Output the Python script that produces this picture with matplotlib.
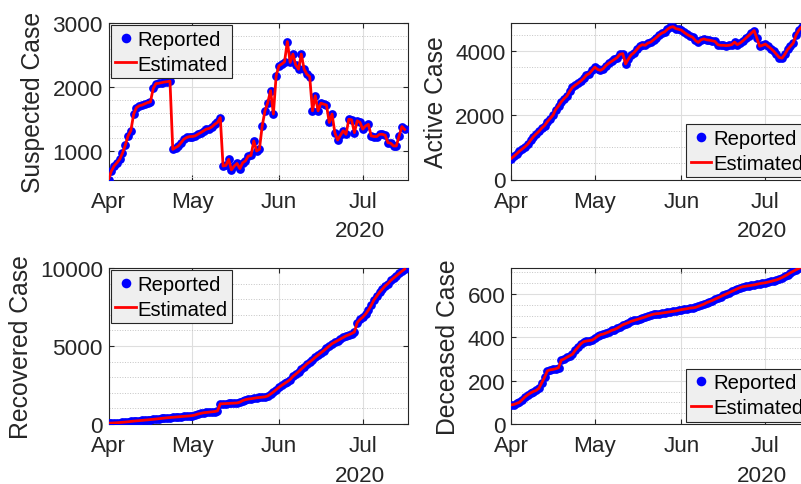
import numpy as np
import pandas as pd
import matplotlib
matplotlib.use("Agg")
import matplotlib.pyplot as plt
from matplotlib.ticker import MultipleLocator

DATES = pd.date_range("2020-04-01", "2020-07-16", freq="D")

SUSPECTED = [
    560, 690, 770, 820, 875, 970, 1095, 1240, 1320, 1580,
    1680, 1710, 1720, 1740, 1760, 1770, 1980, 2055, 2060, 2070,
    2080, 2085, 2095, 1030, 1057, 1083, 1135, 1190, 1215, 1230,
    1230, 1240, 1265, 1290, 1318, 1345, 1355, 1380, 1420, 1450,
    1525, 770, 780, 875, 710, 770, 810, 730, 820, 850,
    925, 935, 1160, 1005, 1030, 1395, 1630, 1760, 1945, 1580,
    2180, 2333, 2360, 2395, 2710, 2385, 2515, 2345, 2280, 2515,
    2280, 2200, 2165, 1630, 1865, 1630, 1750, 1735, 1720, 1450,
    1580, 1290, 1175, 1250, 1320, 1265, 1500, 1490, 1290, 1475,
    1450, 1345, 1395, 1420, 1240, 1230, 1230, 1265, 1265, 1250,
    1135, 1125, 1083, 1083, 1240, 1385, 1340,
]
ACTIVE = [
    650, 720, 800, 880, 950, 1020, 1100, 1220, 1330, 1420,
    1500, 1600, 1680, 1800, 1900, 2000, 2180, 2290, 2420, 2520,
    2600, 2750, 2870, 2940, 3000, 3070, 3150, 3250, 3300, 3400,
    3500, 3430, 3400, 3450, 3550, 3620, 3680, 3740, 3800, 3900,
    3920, 3600, 3750, 3880, 3950, 4050, 4150, 4200, 4180, 4250,
    4280, 4350, 4420, 4500, 4560, 4600, 4680, 4740, 4760, 4700,
    4680, 4650, 4580, 4520, 4470, 4430, 4330, 4270, 4350, 4380,
    4350, 4340, 4320, 4300, 4200, 4180, 4180, 4170, 4180, 4200,
    4280, 4200, 4250, 4320, 4400, 4480, 4560, 4640, 4400, 4150,
    4180, 4220, 4150, 4080, 4000, 3900, 3800, 3780, 3900, 4050,
    4150, 4250, 4500, 4650, 4750, 4820, 4870,
]
RECOVERED = [
    50, 60, 70, 80, 95, 110, 125, 145, 165, 185,
    200, 215, 230, 250, 265, 285, 300, 320, 340, 360,
    380, 400, 415, 430, 445, 460, 475, 490, 505, 520,
    540, 580, 640, 680, 720, 740, 760, 780, 800, 840,
    1290, 1300, 1310, 1320, 1330, 1340, 1350, 1400, 1500, 1560,
    1600, 1620, 1650, 1680, 1700, 1720, 1740, 1800, 1920, 2050,
    2200, 2350, 2480, 2600, 2720, 2850, 3050, 3200, 3350, 3520,
    3680, 3850, 3980, 4120, 4280, 4420, 4560, 4700, 4850, 5000,
    5150, 5250, 5350, 5450, 5550, 5650, 5720, 5800, 5900, 6500,
    6700, 6850, 7050, 7300, 7600, 7950, 8200, 8450, 8650, 8850,
    9000, 9200, 9350, 9500, 9650, 9800, 9930,
]
DECEASED = [
    88, 90, 95, 100, 112, 125, 135, 143, 150, 155,
    165, 190, 215, 245, 250, 252, 255, 260, 295, 300,
    308, 315, 322, 340, 355, 370, 380, 383, 385, 387,
    395, 405, 412, 415, 420, 425, 432, 436, 442, 450,
    458, 463, 468, 474, 478, 482, 486, 490, 494, 499,
    503, 507, 509, 510, 512, 514, 516, 518, 520, 522,
    525, 528, 530, 532, 535, 536, 538, 543, 548, 553,
    560, 565, 570, 576, 582, 588, 594, 600, 606, 612,
    618, 624, 630, 634, 636, 638, 640, 642, 645, 648,
    650, 652, 655, 658, 662, 665, 670, 676, 683, 690,
    698, 705, 712, 718, 724, 730, 736,
]

MONTH_TICKS = pd.to_datetime(["2020-04-01", "2020-05-01", "2020-06-01", "2020-07-01"])
MONTH_LABELS = ["Apr", "May", "Jun", "Jul"]
YEAR_LABEL = "2020"
XLIM = (pd.Timestamp("2020-04-01"), pd.Timestamp("2020-07-17"))

AX_COLOR = "#262626"
TICK_FS = 16.2
LABEL_FS = 17.8
LEGEND_FS = 14.6

W, H = 801, 485


def _panel(fig, rect_px, values, ylabel, ylim, major, minor, legend_loc, label_x):
    x0, y_top, x1, y_bot = rect_px
    ax = fig.add_axes([x0 / W, 1 - y_bot / H, (x1 - x0) / W, (y_bot - y_top) / H])

    ax.plot(DATES, values, linestyle="none", marker="o", markersize=6.3,
            color="#0000ff", markeredgewidth=0, label="Reported", zorder=3)
    ax.plot(DATES, values, color="#ff0000", linewidth=2, label="Estimated", zorder=4)

    ax.set_xlim(*XLIM)
    ax.set_ylim(*ylim)
    ax.set_xticks(MONTH_TICKS)
    ax.set_xticklabels(MONTH_LABELS)
    ax.yaxis.set_major_locator(MultipleLocator(major))
    ax.yaxis.set_minor_locator(MultipleLocator(minor))

    ax.grid(which="major", color="#dedede", linewidth=0.8, linestyle="-")
    ax.grid(which="minor", axis="y", color="#c4c4c4", linewidth=0.7, linestyle=":")
    ax.set_axisbelow(True)

    for sp in ax.spines.values():
        sp.set_color(AX_COLOR)
        sp.set_linewidth(0.8)
    ax.tick_params(which="major", direction="in", length=3.5, width=0.8, color=AX_COLOR,
                   labelcolor=AX_COLOR, labelsize=TICK_FS, top=True, right=True)
    ax.tick_params(which="minor", length=0, top=True, right=True)
    ax.tick_params(axis="x", pad=8)
    ax.tick_params(axis="y", pad=4)

    ax.set_ylabel(ylabel, fontsize=LABEL_FS, color=AX_COLOR)
    ax.yaxis.set_label_coords(label_x, 0.5)

    ax.text(0.925, -0.26, YEAR_LABEL, transform=ax.transAxes, ha="right", va="top",
            fontsize=TICK_FS, color=AX_COLOR)

    leg = ax.legend(loc=legend_loc, fontsize=LEGEND_FS, fancybox=False, framealpha=1,
                    facecolor="#efefef", edgecolor=AX_COLOR, handlelength=1.0,
                    handletextpad=0.1, borderpad=0.22, labelspacing=0.28,
                    borderaxespad=0.12, markerscale=1.1)
    leg.get_frame().set_linewidth(0.8)
    for t in leg.get_texts():
        t.set_color("black")
    return ax


def main():
    plt.rcParams.update({
        "font.family": ["Liberation Sans", "DejaVu Sans"],
    })
    fig = plt.figure(figsize=(W / 100, H / 100), dpi=100)

    _panel(fig, (108.5, 24, 407.5, 180.5), SUSPECTED, "Suspected Case",
           (560, 3000), 1000, 200, "upper left", -0.212)
    _panel(fig, (511, 24, 810, 180.5), ACTIVE, "Active Case",
           (0, 4875), 2000, 500, "lower right", -0.211)
    _panel(fig, (108.5, 269, 407.5, 425), RECOVERED, "Recovered Case",
           (0, 10000), 5000, 1000, "upper left", -0.2525)
    _panel(fig, (511, 269, 810, 425), DECEASED, "Deceased Case",
           (0, 720), 200, 50, "lower right", -0.171)

    fig.savefig("out.png", dpi=100, facecolor="white")
    plt.close(fig)


if __name__ == "__main__":
    main()
